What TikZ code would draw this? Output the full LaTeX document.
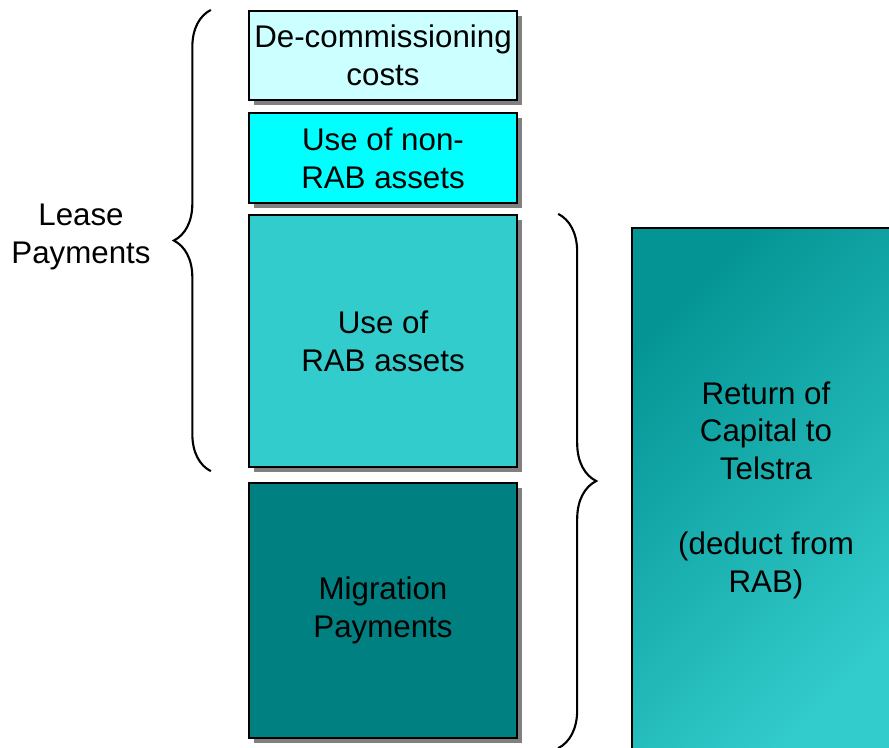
\documentclass[tikz,border=0pt]{standalone}
\usepackage{fontspec}
\setmainfont{Liberation Sans}
\usetikzlibrary{shadows,decorations.pathreplacing}

\definecolor{paleaqua}{HTML}{CCFFFF}
\definecolor{brightaqua}{HTML}{00FFFF}
\definecolor{midaqua}{HTML}{33CCCC}
\definecolor{deepteal}{HTML}{008080}
\definecolor{shadowgray}{HTML}{808080}
\definecolor{capdark}{HTML}{049494}
\definecolor{caplight}{HTML}{33CCCC}

\tikzset{
  costtext/.style={align=center, font=\fontsize{8.9}{10.7}\selectfont},
  costbox/.style={costtext, draw=black, line width=0.6pt, minimum width=2.68cm, inner sep=0pt,
    drop shadow={shadow xshift=0.05cm, shadow yshift=-0.05cm, opacity=1, fill=shadowgray}},
  curly/.style={decorate, decoration={brace, amplitude=#1}, line width=0.6pt}
}

\begin{document}
\begin{tikzpicture}[x=0.01cm, y=-0.01cm]
    \useasboundingbox (0,0) rectangle (889,747);

    % Lease payment blocks
    \node[costbox, fill=paleaqua, minimum height=0.89cm] (decom) at (383,55.5) {De-commissioning\\costs};
    \node[costbox, fill=brightaqua, minimum height=0.90cm] (nonrab) at (383,158) {Use of non-\\RAB assets};
    \node[costbox, fill=midaqua, minimum height=2.52cm] (rab) at (383,341) {Use of\\RAB assets};

    % Migration block
    \node[costbox, fill=deepteal, minimum height=2.55cm] (migr) at (383,610.5) {Migration\\Payments};

    % Return of capital (runs off the page)
    \node[costtext, draw=black, line width=0.6pt, minimum width=2.68cm, minimum height=5.24cm,
          top color=capdark, bottom color=caplight, shading angle=45] (ret) at (766,490)
          {Return of\\Capital to\\Telstra\\[10.7pt](deduct from\\RAB)};

    % Labels
    \node[costtext] (lease) at (81,237) {Lease\\Payments};

    % Braces
    \draw[curly=0.37cm] ([xshift=-0.37cm, yshift=-0.03cm]rab.south west) -- ([xshift=-0.37cm]decom.north west);
    \draw[curly=0.38cm] ([xshift=0.40cm]rab.north east) -- ([xshift=0.40cm, yshift=-0.09cm]migr.south east);
\end{tikzpicture}
\end{document}
